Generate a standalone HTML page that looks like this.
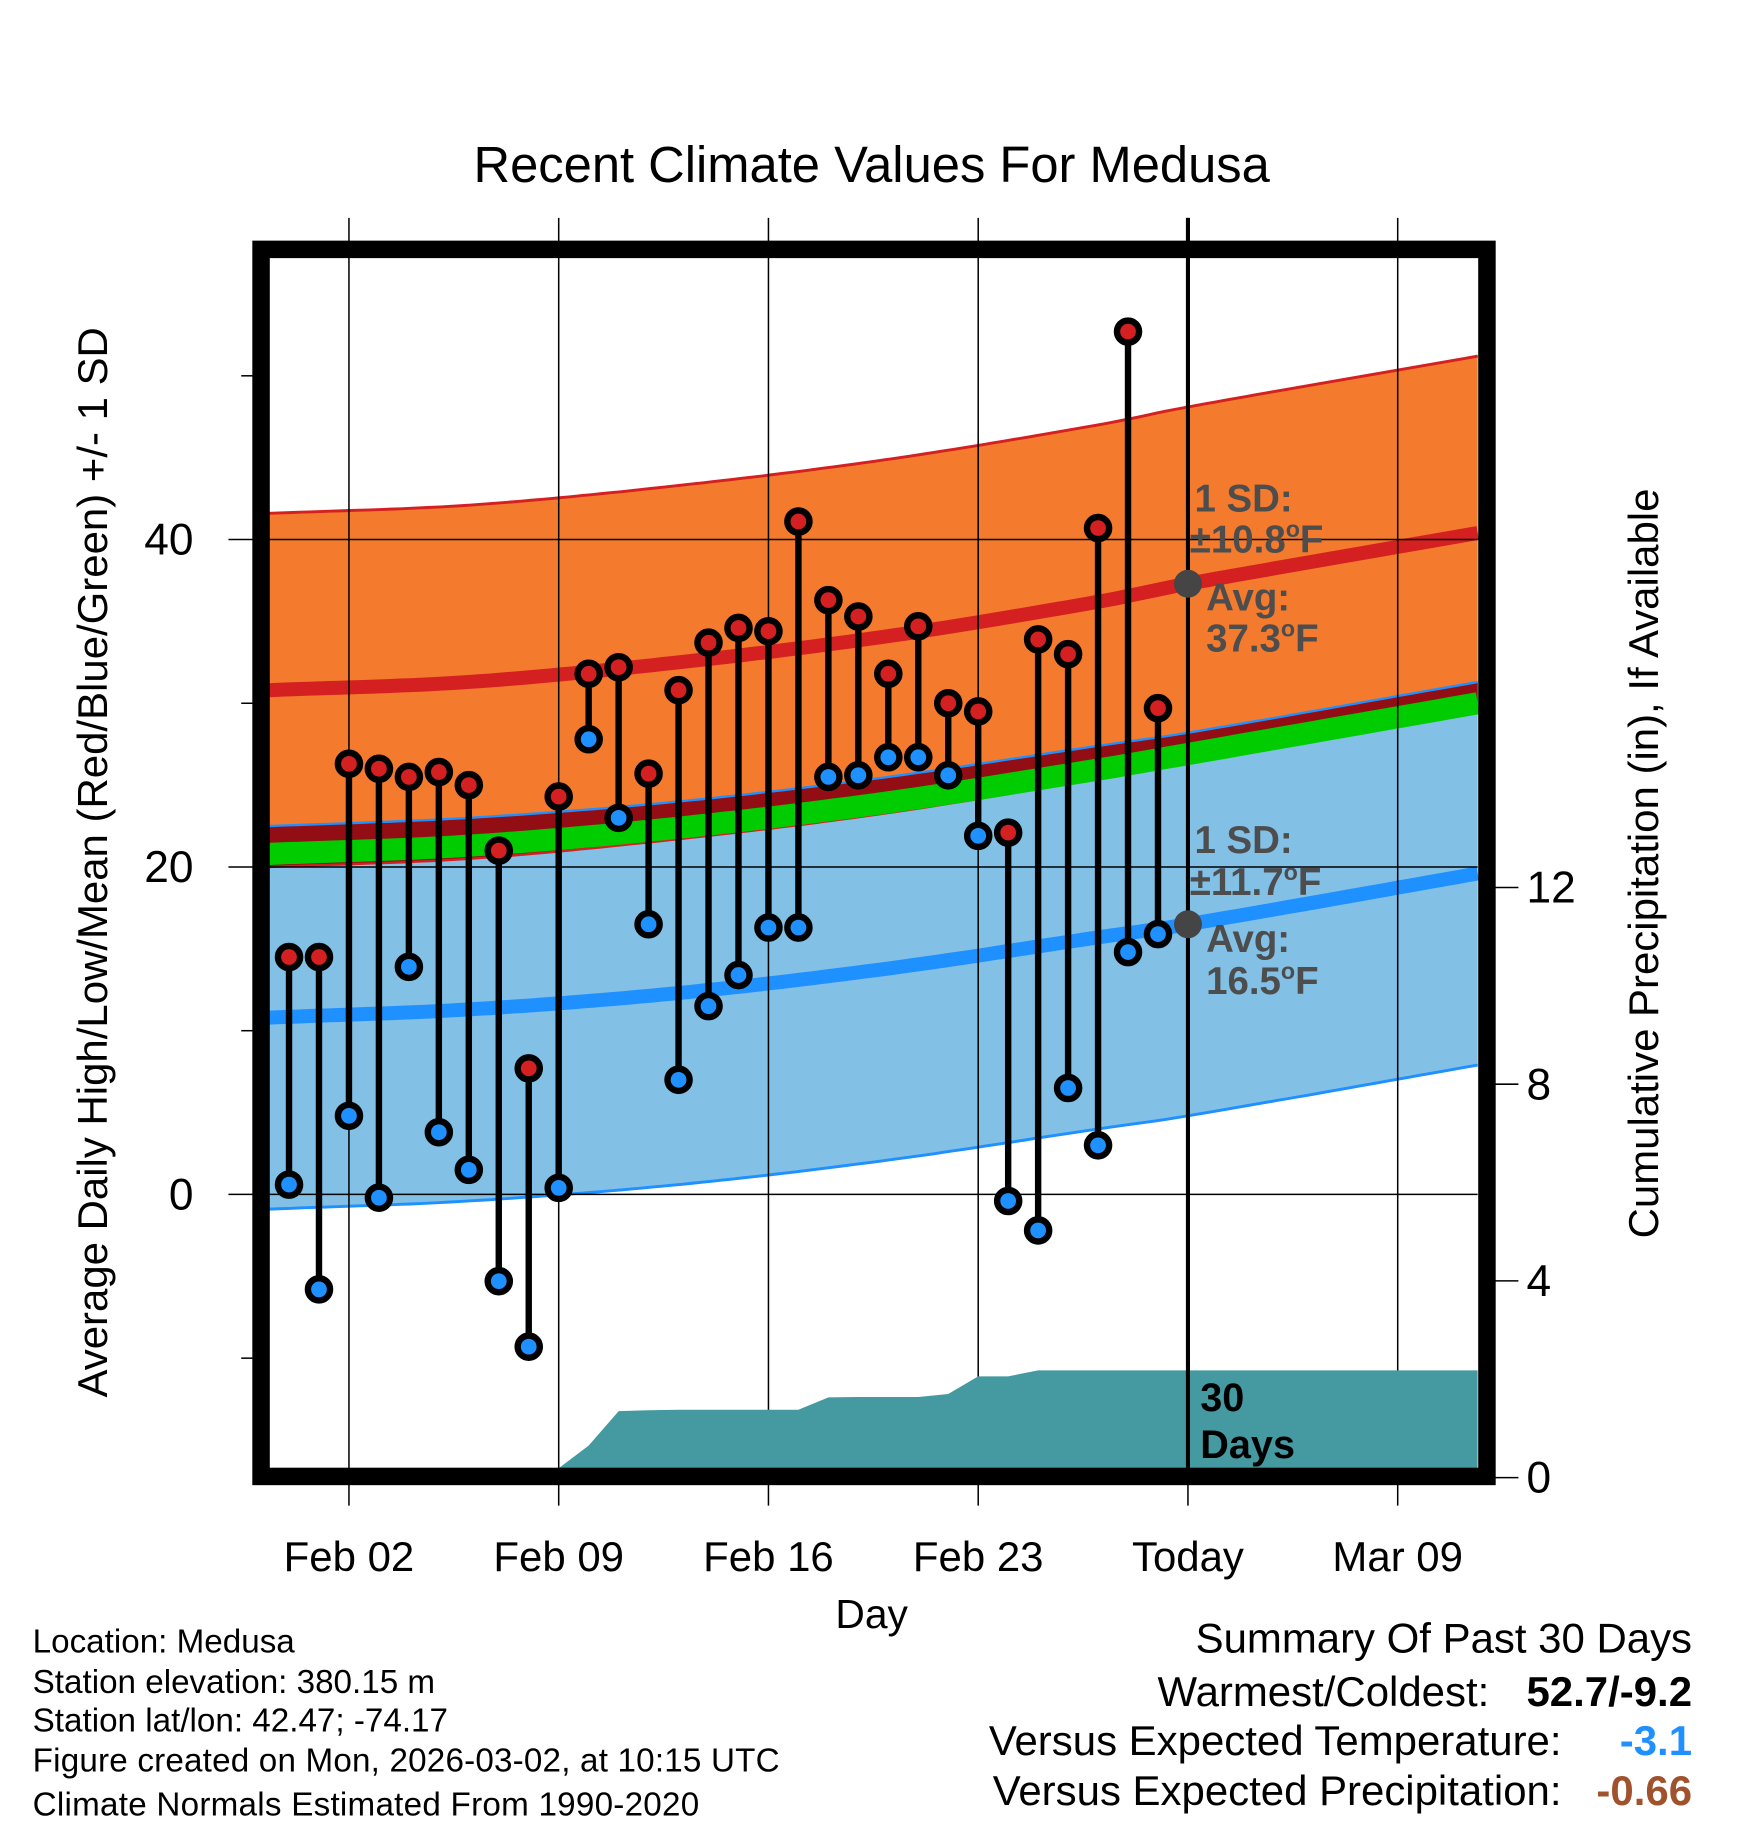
<!DOCTYPE html>
<html><head><meta charset="utf-8"><style>
html,body{margin:0;padding:0;background:#fff;}
svg{display:block;font-family:"Liberation Sans",sans-serif;}
.nar{font-family:"Liberation Sans Narrow","Liberation Sans",sans-serif;}
</style></head><body>
<svg id="chart" width="1748" height="1828" viewBox="0 0 1500 1568.7" xmlns="http://www.w3.org/2000/svg">
<g id="bands"></g>
<g id="grid"></g>
<g id="precip"></g>
<g id="marks"></g>
<g id="annot"></g>
<rect x="224" y="214" width="1052" height="1053" fill="none" stroke="#000" stroke-width="15"/>
<g id="axes"></g>
<text x="748" y="156" font-size="43.5" text-anchor="middle">Recent Climate Values For Medusa</text>
<text x="748" y="1397" font-size="35" text-anchor="middle">Day</text>
<text x="0" y="0" font-size="36" text-anchor="middle" transform="translate(92,740) rotate(-90)">Average Daily High/Low/Mean (Red/Blue/Green) +/- 1 SD</text>
<text x="0" y="0" font-size="36" text-anchor="middle" transform="translate(1423,741) rotate(-90)">Cumulative Precipitation (in), If Available</text>
<g class="nar" font-size="28.5">
<text x="28" y="1418">Location: Medusa</text>
<text x="28" y="1453">Station elevation: 380.15 m</text>
<text x="28" y="1486">Station lat/lon: 42.47; -74.17</text>
<text x="28" y="1520" textLength="641">Figure created on Mon, 2026-03-02, at 10:15 UTC</text>
<text x="28" y="1558" textLength="572">Climate Normals Estimated From 1990-2020</text>
</g>
<g font-size="36">
<text x="1452" y="1418" text-anchor="end">Summary Of Past 30 Days</text>
<text x="1278" y="1464" text-anchor="end">Warmest/Coldest:</text>
<text x="1452" y="1464" text-anchor="end" font-weight="bold">52.7/-9.2</text>
<text x="1340" y="1506" text-anchor="end">Versus Expected Temperature:</text>
<text x="1452" y="1506" text-anchor="end" font-weight="bold" fill="#1e90ff">-3.1</text>
<text x="1340" y="1549" text-anchor="end">Versus Expected Precipitation:</text>
<text x="1452" y="1549" text-anchor="end" font-weight="bold" fill="#a0522d">-0.66</text>
</g>
</svg>
<script>
const highs=[14.5,14.5,26.3,26.0,25.5,25.8,25.0,21.0,7.7,24.3,31.8,32.2,25.7,30.8,33.7,34.6,34.4,41.1,36.3,35.3,31.8,34.7,30.0,29.5,22.1,33.9,33.0,40.7,52.7,29.7];
const lows=[0.6,-5.8,4.8,-0.2,13.9,3.8,1.5,-5.3,-9.3,0.4,27.8,23.0,16.5,7.0,11.5,13.4,16.3,16.3,25.5,25.6,26.7,26.7,25.6,21.9,-0.4,-2.2,6.5,3.0,14.8,15.9];
const precip=[0,0,0,0,0,0,0,0,0,0,0.65,1.35,1.37,1.38,1.38,1.38,1.38,1.38,1.63,1.64,1.64,1.64,1.7,2.06,2.06,2.18,2.18,2.18,2.18,2.18];
const normDays=[-0.66,6,13,20,27,30,39.67];
const normHigh=[30.8,31.3,32.5,34.1,36.2,37.3,40.4];
const normLow=[10.8,11.3,12.3,13.8,15.7,16.5,19.6];
const sdHigh=10.8, sdLow=11.7;
const xTickDays=[2,9,16,23,30,37];
const xTickLabels=["Feb 02","Feb 09","Feb 16","Feb 23","Today","Mar 09"];
const yTicks=[0,20,40];
const yMinor=[-10,10,30,50];
const pTicks=[0,4,8,12];

const NS="http://www.w3.org/2000/svg";
const X=d=>248+d*25.714;
const Y=v=>1025-v*14.05;
const P=p=>1268-p*42.2;
const XL=231,XR=1268,YT=221,YB=1260;
function el(tag,attrs,parent){const e=document.createElementNS(NS,tag);for(const k in attrs)e.setAttribute(k,attrs[k]);parent.appendChild(e);return e;}
function interp(arr,d){
 const n=normDays.length;
 for(let i=0;i<n-1;i++){
  if(d<=normDays[i+1]||i==n-2){
   const x0=normDays[i],x1=normDays[i+1],h=x1-x0,t=(d-x0)/h;
   const m=j=>{const a=Math.max(0,j-1),b=Math.min(n-1,j+1);return (arr[b]-arr[a])/(normDays[b]-normDays[a]);};
   const m0=m(i)*h,m1=m(i+1)*h,t2=t*t,t3=t2*t;
   return (2*t3-3*t2+1)*arr[i]+(t3-2*t2+t)*m0+(-2*t3+3*t2)*arr[i+1]+(t3-t2)*m1;
  }
 }
 return arr[n-1];
}
const samp=[];for(let i=0;i<=120;i++)samp.push(normDays[0]+(normDays[normDays.length-1]-normDays[0])*i/120);
const line=f=>samp.map(d=>X(d).toFixed(1)+","+Y(f(d)).toFixed(1));
const hiM=d=>interp(normHigh,d), loM=d=>interp(normLow,d);

const bands=document.getElementById('bands');
let e;
e=el('polygon',{points:line(d=>hiM(d)+sdHigh).concat(line(d=>hiM(d)-sdHigh).reverse()).join(' '),fill:'#f47a2e'},bands);

e=el('polygon',{points:line(d=>loM(d)+sdLow).concat(line(d=>loM(d)-sdLow).reverse()).join(' '),fill:'#82c0e6'},bands);

e=el('polygon',{points:line(d=>Math.max(loM(d)+sdLow,hiM(d)-sdHigh)).concat(line(d=>hiM(d)-sdHigh).reverse()).join(' '),fill:'#930e14'},bands);

[[d=>hiM(d)+sdHigh,'#d42020',2.5,'high-sd-upper'],[d=>hiM(d)-sdHigh,'#d42020',2,'high-sd-lower'],[d=>loM(d)+sdLow,'#1e90ff',2,'low-sd-upper'],[d=>loM(d)-sdLow,'#1e90ff',2.5,'low-sd-lower'],[d=>(hiM(d)+loM(d))/2,'#00cc00',19,'mean-line'],[hiM,'#d42020',12,'avg-high-line'],[loM,'#1e90ff',12,'avg-low-line']].forEach(a=>{
 e=el('polyline',{points:line(a[0]).join(' '),fill:'none',stroke:a[1],'stroke-width':a[2]},bands);
 
});

const grid=document.getElementById('grid');
xTickDays.forEach((d,i)=>{
 e=el('line',{x1:X(d),x2:X(d),y1:187,y2:1292,stroke:'#000','stroke-width':1.3},grid);
 
});
yTicks.forEach(v=>{
 e=el('line',{x1:196,x2:XR,y1:Y(v),y2:Y(v),stroke:'#000','stroke-width':1.3},grid);
 
});

const pg=document.getElementById('precip');
const pd=[];for(let i=0;i<precip.length;i++)pd.push([X(i),P(precip[i])]);
pd.push([XR,P(precip[precip.length-1])]);
let pts=pd.map(p=>p[0].toFixed(1)+","+Math.min(p[1],YB).toFixed(1));
pts.push(XR+","+YB);pts.push(XL+","+YB);
e=el('polygon',{points:pts.join(' '),fill:'#4599a1'},pg);


const mk=document.getElementById('marks');
e=el('line',{x1:X(30),x2:X(30),y1:187,y2:YB,stroke:'#000','stroke-width':3.5},mk);

highs.forEach((h,i)=>{
 e=el('line',{x1:X(i),x2:X(i),y1:Y(h),y2:Y(lows[i]),stroke:'#000','stroke-width':5.5},mk);
 
});
highs.forEach((h,i)=>{
 e=el('circle',{cx:X(i),cy:Y(h),r:9.5,fill:'#d42020',stroke:'#000','stroke-width':5.5},mk);
 
 e=el('circle',{cx:X(i),cy:Y(lows[i]),r:9.5,fill:'#1e90ff',stroke:'#000','stroke-width':5.5},mk);
 
});

const an=document.getElementById('annot');
e=el('circle',{cx:X(30),cy:Y(hiM(30)),r:12,fill:'#454545'},an);

e=el('circle',{cx:X(30),cy:Y(loM(30)),r:12,fill:'#454545'},an);

function atext(x,y,html,name,fill,size){const t=el('text',{x:x,y:y,'font-size':size||33,'font-weight':'bold',fill:fill||'#4d4d4d'},an);t.innerHTML=html;}
atext(1025,439,'1 SD:','high-sd-label');
atext(1021,474,'±10.8<tspan dy="-13" font-size="20">o</tspan><tspan dy="13">F</tspan>','high-sd-value');
atext(1035,524,'Avg:','high-avg-label');
atext(1035,559,'37.3<tspan dy="-13" font-size="20">o</tspan><tspan dy="13">F</tspan>','high-avg-value');
atext(1025,732,'1 SD:','low-sd-label');
atext(1021,768,'±11.7<tspan dy="-13" font-size="20">o</tspan><tspan dy="13">F</tspan>','low-sd-value');
atext(1035,817,'Avg:','low-avg-label');
atext(1035,853,'16.5<tspan dy="-13" font-size="20">o</tspan><tspan dy="13">F</tspan>','low-avg-value');
atext(1030,1211,'30','days-count-label','#000',34);
atext(1030,1251,'Days','days-label','#000',34);

const ax=document.getElementById('axes');
yTicks.forEach(v=>{
 e=el('text',{x:166,y:Y(v)+13,'font-size':38,'text-anchor':'end'},ax);e.textContent=v;
 
});
yMinor.forEach(v=>{
 e=el('line',{x1:207,x2:217,y1:Y(v),y2:Y(v),stroke:'#000','stroke-width':1.3},ax);
 
});
pTicks.forEach(p=>{
 e=el('line',{x1:1283,x2:1303,y1:P(p),y2:P(p),stroke:'#000','stroke-width':1.3},ax);
 
 e=el('text',{x:1310,y:P(p)+13,'font-size':38,'text-anchor':'start'},ax);e.textContent=p;
 
});
xTickDays.forEach((d,i)=>{
 e=el('text',{x:X(d),y:1348,'font-size':36,'text-anchor':'middle'},ax);e.textContent=xTickLabels[i];
 
});
</script>
</body></html>
